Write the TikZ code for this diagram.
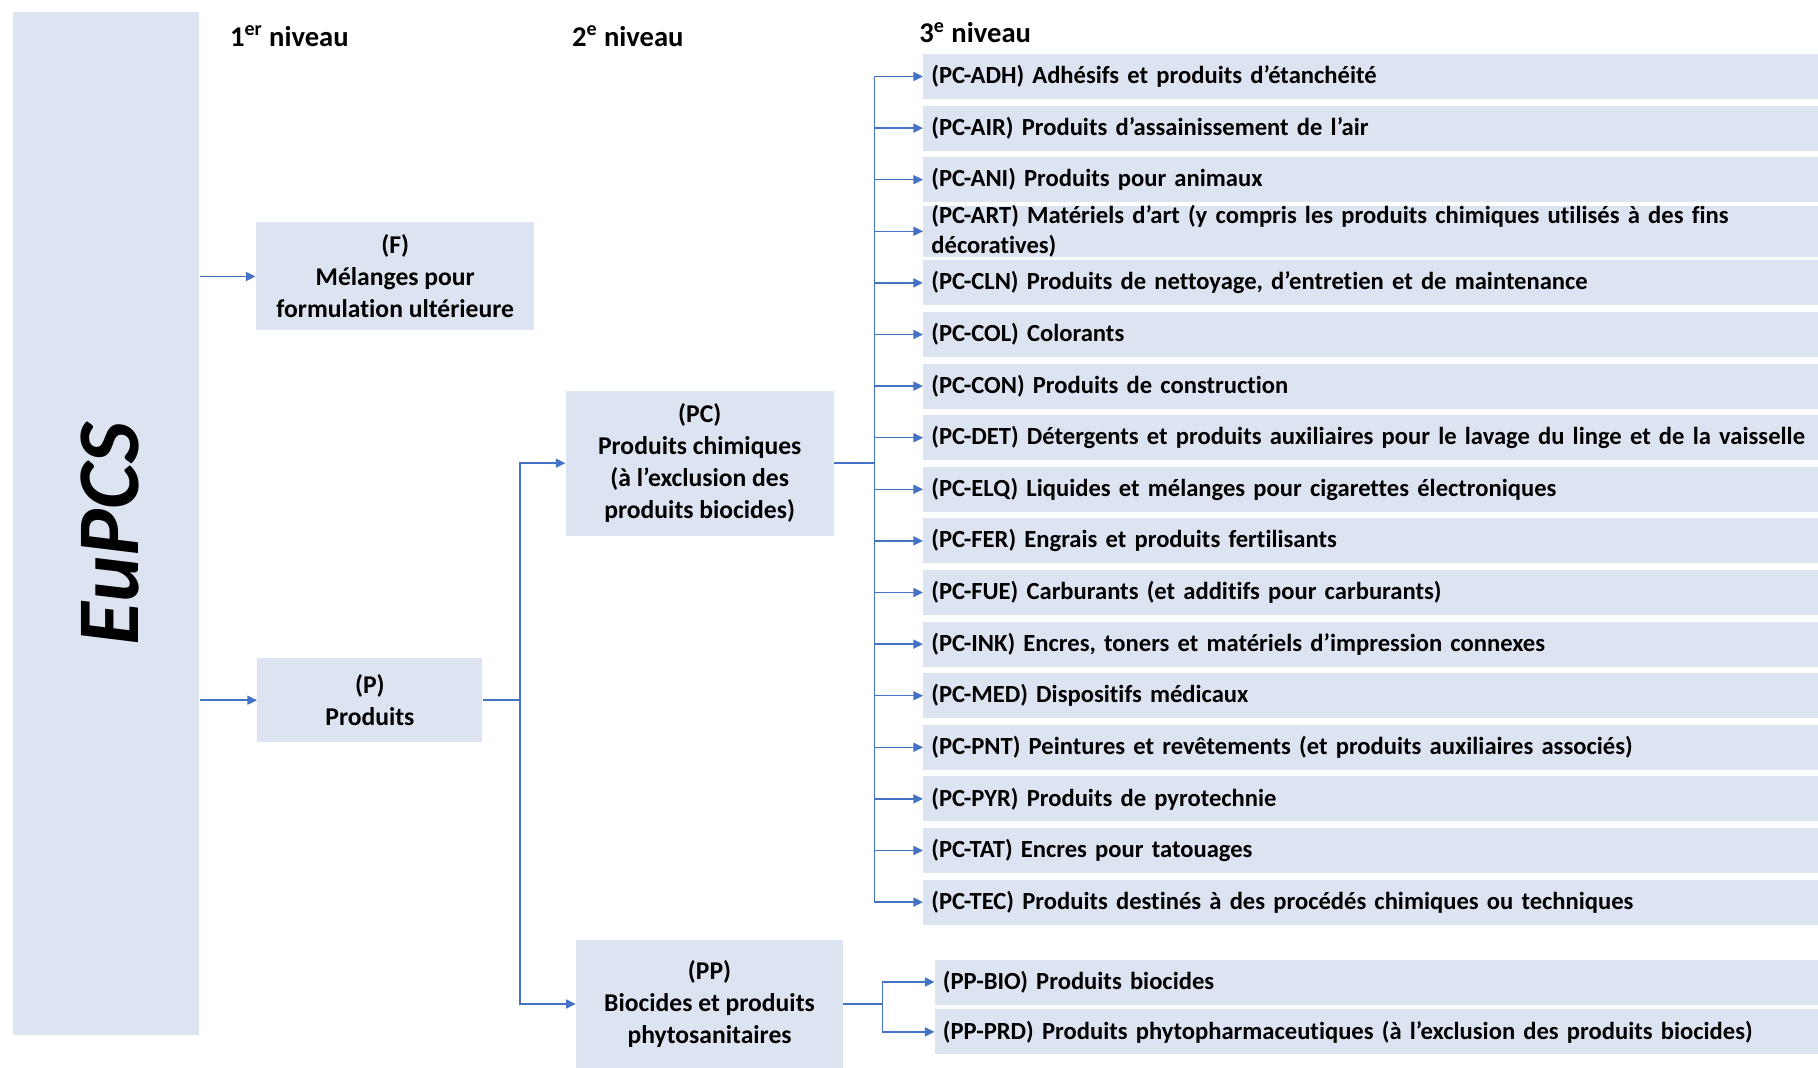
\documentclass[tikz,border=0pt]{standalone}
\usepackage{fontspec}
\setmainfont[Ligatures=NoCommon]{Carlito}
\usetikzlibrary{arrows.meta,positioning}
\definecolor{boxfill}{RGB}{221,228,241}
\definecolor{linkblue}{RGB}{68,114,196}

\begin{document}
\begin{tikzpicture}[
    x=0.5pt, y=-0.5pt,
    every node/.style={font=\bfseries\fontsize{12.3}{15.5}\selectfont},
    tree/.style={fill=boxfill, inner sep=0pt, align=center, font=\bfseries\fontsize{12.8}{16}\selectfont},
    leaf/.style={fill=boxfill, anchor=west, minimum height=22.5pt, text width=439.5pt, inner xsep=4pt, inner ysep=0pt, align=left},
    ppleaf/.style={leaf, text width=433.75pt},
    head/.style={anchor=west, inner sep=0pt, font=\bfseries\fontsize{14.3}{16}\selectfont},
    line/.style={draw=linkblue, line width=0.75pt},
    link/.style={line, -{Triangle[length=4.8pt,width=4.5pt]}}
]
\useasboundingbox (0,0) rectangle (1818,1068);

% left column
\node[fill=boxfill, minimum width=93.3pt, minimum height=511.8pt] (eupcs) at (106.1,523.5) {};
\node[rotate=90, font=\bfseries\itshape\fontsize{44}{44}\selectfont] (eupcstext) at (110,534) {EuPCS};

% level headings
\node[head] (lvl1) at (229.6,36) {1\textsuperscript{er} niveau};
\node[head] (lvl2) at (571.6,36) {2\textsuperscript{e} niveau};
\node[head] (lvl3) at (919,32.5) {3\textsuperscript{e} niveau};

% first and second level
\node[tree, minimum width=139.25pt, minimum height=54pt] (f) at (395.2,276.5) {(F)\\Mélanges pour\\formulation ultérieure};
\node[tree, minimum width=112.5pt, minimum height=41.75pt] (p) at (369.9,700.2) {(P)\\Produits};
\node[tree, minimum width=133.9pt, minimum height=72.5pt] (pc) at (699.7,463.2) {(PC)\\Produits chimiques\\(à l’exclusion des\\produits biocides)};
\node[tree, minimum width=133.4pt, minimum height=64pt] (pp) at (709.5,1004) {(PP)\\Biocides et produits\\phytosanitaires};

% third level
\node[leaf] (adh) at (923,76.5) {(PC-ADH) Adhésifs et produits d’étanchéité};
\node[leaf] (air) at (923,128.1) {(PC-AIR) Produits d’assainissement de l’air};
\node[leaf] (ani) at (923,179.7) {(PC-ANI) Produits pour animaux};
\node[leaf, font=\bfseries\fontsize{12.3}{14.6}\selectfont] (art) at (923,231.3) {(PC-ART) Matériels d’art (y compris les produits chimiques utilisés à des fins\\décoratives)};
\node[leaf] (cln) at (923,282.9) {(PC-CLN) Produits de nettoyage, d’entretien et de maintenance};
\node[leaf] (col) at (923,334.5) {(PC-COL) Colorants};
\node[leaf] (con) at (923,386.1) {(PC-CON) Produits de construction};
\node[leaf] (det) at (923,437.7) {(PC-DET) Détergents et produits auxiliaires pour le lavage du linge et de la vaisselle};
\node[leaf] (elq) at (923,489.3) {(PC-ELQ) Liquides et mélanges pour cigarettes électroniques};
\node[leaf] (fer) at (923,540.9) {(PC-FER) Engrais et produits fertilisants};
\node[leaf] (fue) at (923,592.5) {(PC-FUE) Carburants (et additifs pour carburants)};
\node[leaf] (ink) at (923,644.1) {(PC-INK) Encres, toners et matériels d’impression connexes};
\node[leaf] (med) at (923,695.7) {(PC-MED) Dispositifs médicaux};
\node[leaf] (pnt) at (923,747.3) {(PC-PNT) Peintures et revêtements (et produits auxiliaires associés)};
\node[leaf] (pyr) at (923,798.9) {(PC-PYR) Produits de pyrotechnie};
\node[leaf] (tat) at (923,850.5) {(PC-TAT) Encres pour tatouages};
\node[leaf] (tec) at (923,902.1) {(PC-TEC) Produits destinés à des procédés chimiques ou techniques};

\node[ppleaf] (bio) at (934.5,982) {(PP-BIO) Produits biocides};
\node[ppleaf] (prd) at (934.5,1031.9) {(PP-PRD) Produits phytopharmaceutiques (à l’exclusion des produits biocides)};

% forks
\coordinate[right=18.55pt of p.east] (pfork);
\coordinate[right=20.2pt of pc.east] (pcfork);
\coordinate[right=19.5pt of pp.east] (ppfork);

\draw[link] (eupcs.east |- f) -- (f);
\draw[link] (eupcs.east |- p) -- (p);

\draw[line] (p) -- (pfork);
\draw[link] (pfork) |- (pc.west);
\draw[link] (pfork) |- (pp.west);

\draw[line] (pc) -- (pcfork);
\draw[link] (pcfork) |- (adh.west);
\draw[link] (pcfork) |- (air.west);
\draw[link] (pcfork) |- (ani.west);
\draw[link] (pcfork) |- (art.west);
\draw[link] (pcfork) |- (cln.west);
\draw[link] (pcfork) |- (col.west);
\draw[link] (pcfork) |- (con.west);
\draw[link] (pcfork) |- (det.west);
\draw[link] (pcfork) |- (elq.west);
\draw[link] (pcfork) |- (fer.west);
\draw[link] (pcfork) |- (fue.west);
\draw[link] (pcfork) |- (ink.west);
\draw[link] (pcfork) |- (med.west);
\draw[link] (pcfork) |- (pnt.west);
\draw[link] (pcfork) |- (pyr.west);
\draw[link] (pcfork) |- (tat.west);
\draw[link] (pcfork) |- (tec.west);

\draw[line] (pp) -- (ppfork);
\draw[link] (ppfork) |- (bio.west);
\draw[link] (ppfork) |- (prd.west);

\end{tikzpicture}
\end{document}
